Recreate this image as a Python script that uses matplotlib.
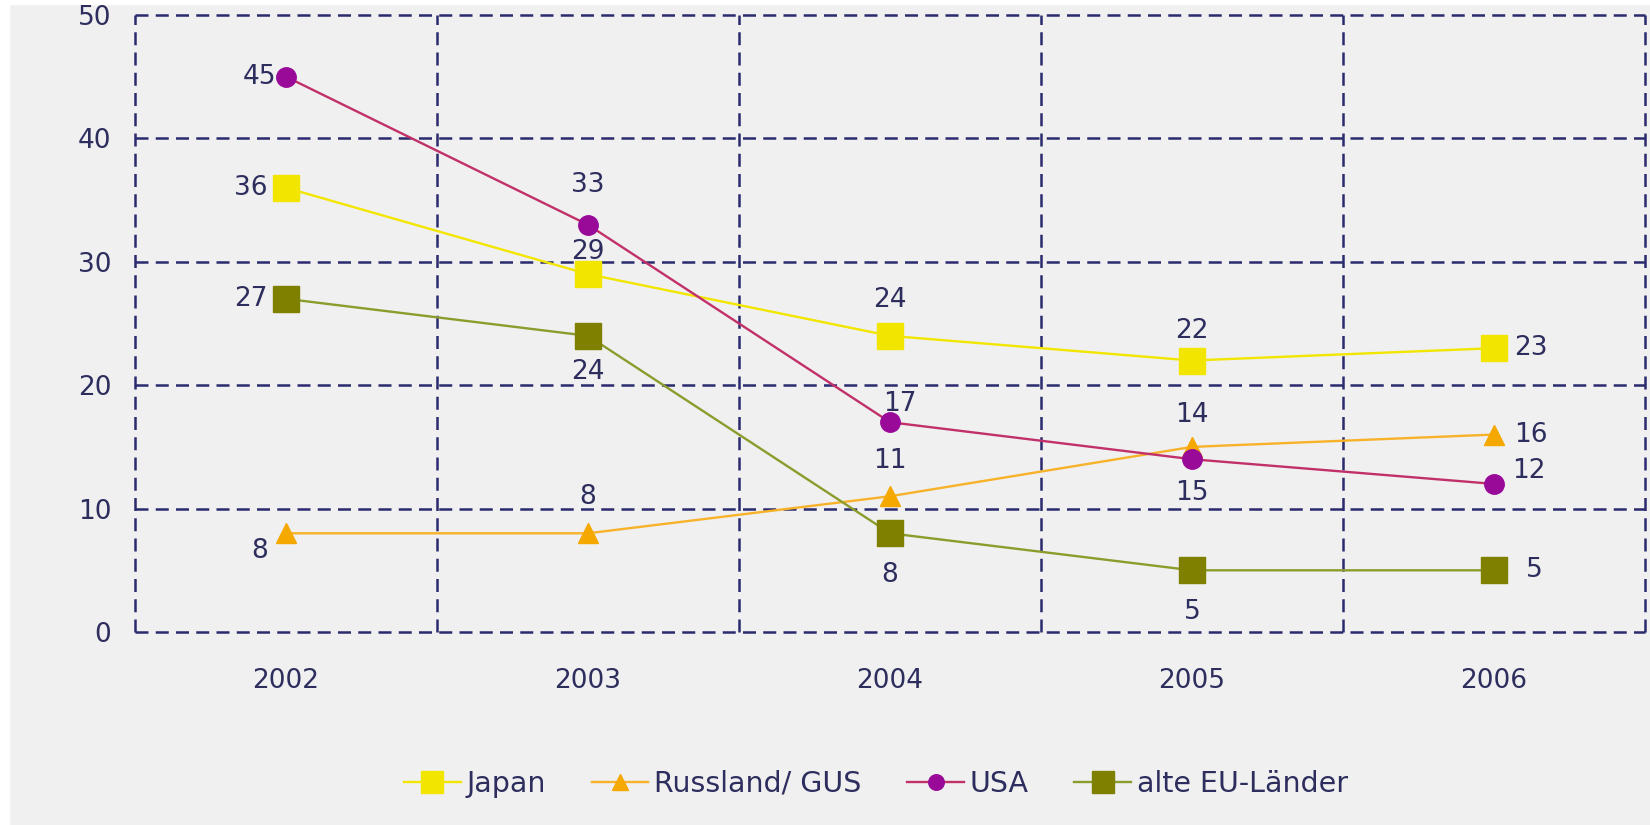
import matplotlib
matplotlib.use("Agg")
import matplotlib.pyplot as plt
from matplotlib.patches import Rectangle

years = ["2002", "2003", "2004", "2005", "2006"]
yticks = [0, 10, 20, 30, 40, 50]

japan = [36, 29, 24, 22, 23]
russland = [8, 8, 11, 15, 16]
usa = [45, 33, 17, 14, 12]
eu = [27, 24, 8, 5, 5]

series_names = ["Japan", "Russland/ GUS", "USA", "alte EU-Länder"]

TXT = "#2d2d5e"
GRID = "#2a2a6e"
BG = "#f0f0f0"
FS = 19

# label offsets in pixels (dx, dy), alignment
japan_off = [(-18, 0, "right"), (0, 22, "center"), (0, 36, "center"), (0, 30, "center"), (20, 0, "left")]
russ_off = [(-18, -18, "right"), (0, 36, "center"), (0, 35, "center"), (0, -46, "center"), (20, 0, "left")]
usa_off = [(-10, 0, "right"), (0, 40, "center"), (10, 18, "center"), (0, 44, "center"), (18, 13, "left")]
eu_off = [(-18, 0, "right"), (0, -36, "center"), (0, -42, "center"), (0, -42, "center"), (32, 0, "left")]

fig = plt.figure(figsize=(16.5, 8.25), dpi=100, facecolor=BG)
fig.patches.append(Rectangle((0, 0), 9 / 1650, 1, transform=fig.transFigure, color="white", zorder=-1))
fig.patches.append(Rectangle((0, 1 - 4 / 825), 1, 4 / 825, transform=fig.transFigure, color="white", zorder=-1))

ax = fig.add_axes([135 / 1650, 1 - 632 / 825, (1645 - 135) / 1650, (632 - 15) / 825])
ax.set_facecolor(BG)
x = list(range(len(years)))
ax.set_xlim(-0.5, len(years) - 0.5)
ax.set_ylim(0, 50)

dash = (0, (5.2, 2.9))
for v in yticks:
    ax.axhline(v, color=GRID, lw=1.8, ls=dash, zorder=1, clip_on=False)
for b in [i - 0.5 for i in range(len(years) + 1)]:
    ax.axvline(b, color=GRID, lw=1.8, ls=dash, zorder=1, clip_on=False)
for s in ax.spines.values():
    s.set_visible(False)

ax.set_xticks(x)
ax.set_xticklabels(years)
ax.set_yticks(yticks)
ax.tick_params(length=0, labelsize=FS, colors=TXT, pad=0)
ax.tick_params(axis="y", pad=17)
ax.tick_params(axis="x", pad=26)

specs = [
    (japan, "#f2e600", "#f2e600", "s", 19, japan_off),
    (russland, "#f7b22a", "#f5a800", "^", 14, russ_off),
    (usa, "#c2306a", "#990a99", "o", 14, usa_off),
    (eu, "#8c9c2c", "#808000", "s", 19, eu_off),
]
handles = []
for (vals, lc, mc, m, ms, offs), name in zip(specs, series_names):
    h, = ax.plot(x, vals, color=lc, lw=1.7, marker=m, markersize=ms,
                 markerfacecolor=mc, markeredgecolor=mc, zorder=3, label=name, clip_on=False)
    handles.append(h)
    for xi, v, (dx, dy, ha) in zip(x, vals, offs):
        ax.annotate(str(v), (xi, v), xytext=(dx * 0.72, dy * 0.72), textcoords="offset points",
                    ha=ha, va="center", fontsize=FS, color=TXT, zorder=4)

leg = fig.legend(handles=handles, loc="center", bbox_to_anchor=(876 / 1650, 1 - 784 / 825),
                 ncol=4, frameon=False, fontsize=FS + 1.5, markerscale=0.8, handlelength=2.0,
                 handletextpad=0.2, columnspacing=1.6, labelcolor=TXT)

fig.savefig("out.png", dpi=100, facecolor=BG)
